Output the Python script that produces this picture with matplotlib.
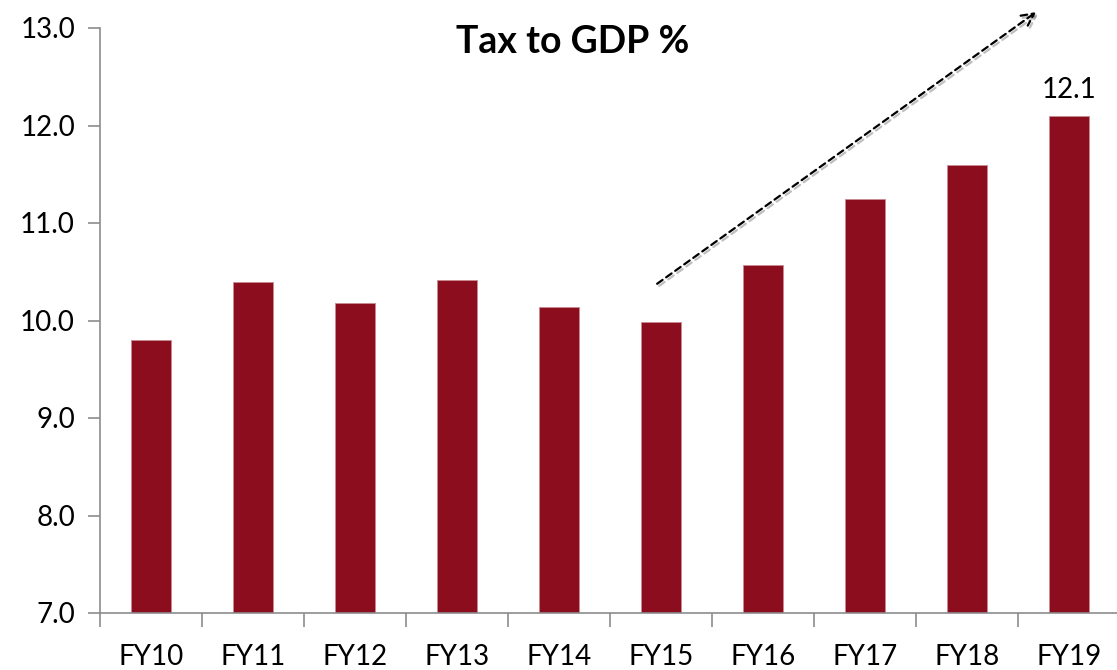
import matplotlib
matplotlib.use("Agg")
import matplotlib.pyplot as plt
import matplotlib.patheffects as pe
import numpy as np

plt.rcParams['font.family'] = ['Lato', 'DejaVu Sans']

years = ["FY10", "FY11", "FY12", "FY13", "FY14", "FY15", "FY16", "FY17", "FY18", "FY19"]
tax_to_gdp = [9.80, 10.39, 10.18, 10.42, 10.14, 9.98, 10.57, 11.25, 11.60, 12.1]
y_ticks = [7.0, 8.0, 9.0, 10.0, 11.0, 12.0, 13.0]

bar_color = "#8B0D1E"
axis_color = "#8C8C8C"

fig = plt.figure(figsize=(11.17, 6.70), dpi=100)
ax = fig.add_axes([100 / 1117, 1 - 613 / 670, 1020 / 1117, (613 - 28) / 670])

x = np.arange(len(years))
ax.bar(x, tax_to_gdp, width=0.4, color=bar_color, edgecolor="#C98A92", linewidth=0.6, zorder=2)

ax.set_xlim(-0.5, len(years) - 0.5)
ax.set_ylim(7.0, 13.0)

ax.set_yticks(y_ticks)
ax.set_yticklabels([f"{v:.1f}" for v in y_ticks])

# category boundaries carry the tick marks, centers carry the labels
ax.set_xticks(np.arange(-0.5, len(years), 1.0))
ax.set_xticklabels([])
ax.set_xticks(x, minor=True)
ax.set_xticklabels(years, minor=True)

ax.tick_params(axis="y", which="major", direction="out", length=9, width=1.2,
               color=axis_color, labelsize=20, pad=9)
ax.tick_params(axis="x", which="major", direction="out", length=10, width=1.2,
               color=axis_color)
ax.tick_params(axis="x", which="minor", length=0, labelsize=20, pad=22)

for side in ("top", "right"):
    ax.spines[side].set_visible(False)
for side in ("left", "bottom"):
    ax.spines[side].set_color(axis_color)
    ax.spines[side].set_linewidth(1.2)

# value label on the latest year
ax.text(x[-1], tax_to_gdp[-1] + 0.13, f"{tax_to_gdp[-1]:.1f}", ha="center", va="bottom",
        fontsize=20, color="black")

# dashed trend arrow
ax.annotate("", xy=(8.70, 13.18), xytext=(4.94, 10.36),
            arrowprops=dict(arrowstyle="->", color="black", lw=1.6, linestyle=(0, (3, 2)),
                            mutation_scale=22,
                            path_effects=[pe.SimpleLineShadow(offset=(1.5, -1.5), alpha=0.25),
                                          pe.Normal()]),
            annotation_clip=False)

fig.text(573 / 1117, 1 - 42 / 670, "Tax to GDP %", ha="center", va="center",
         fontsize=27, fontweight="bold")

fig.savefig("out.png", dpi=100, facecolor="white")
